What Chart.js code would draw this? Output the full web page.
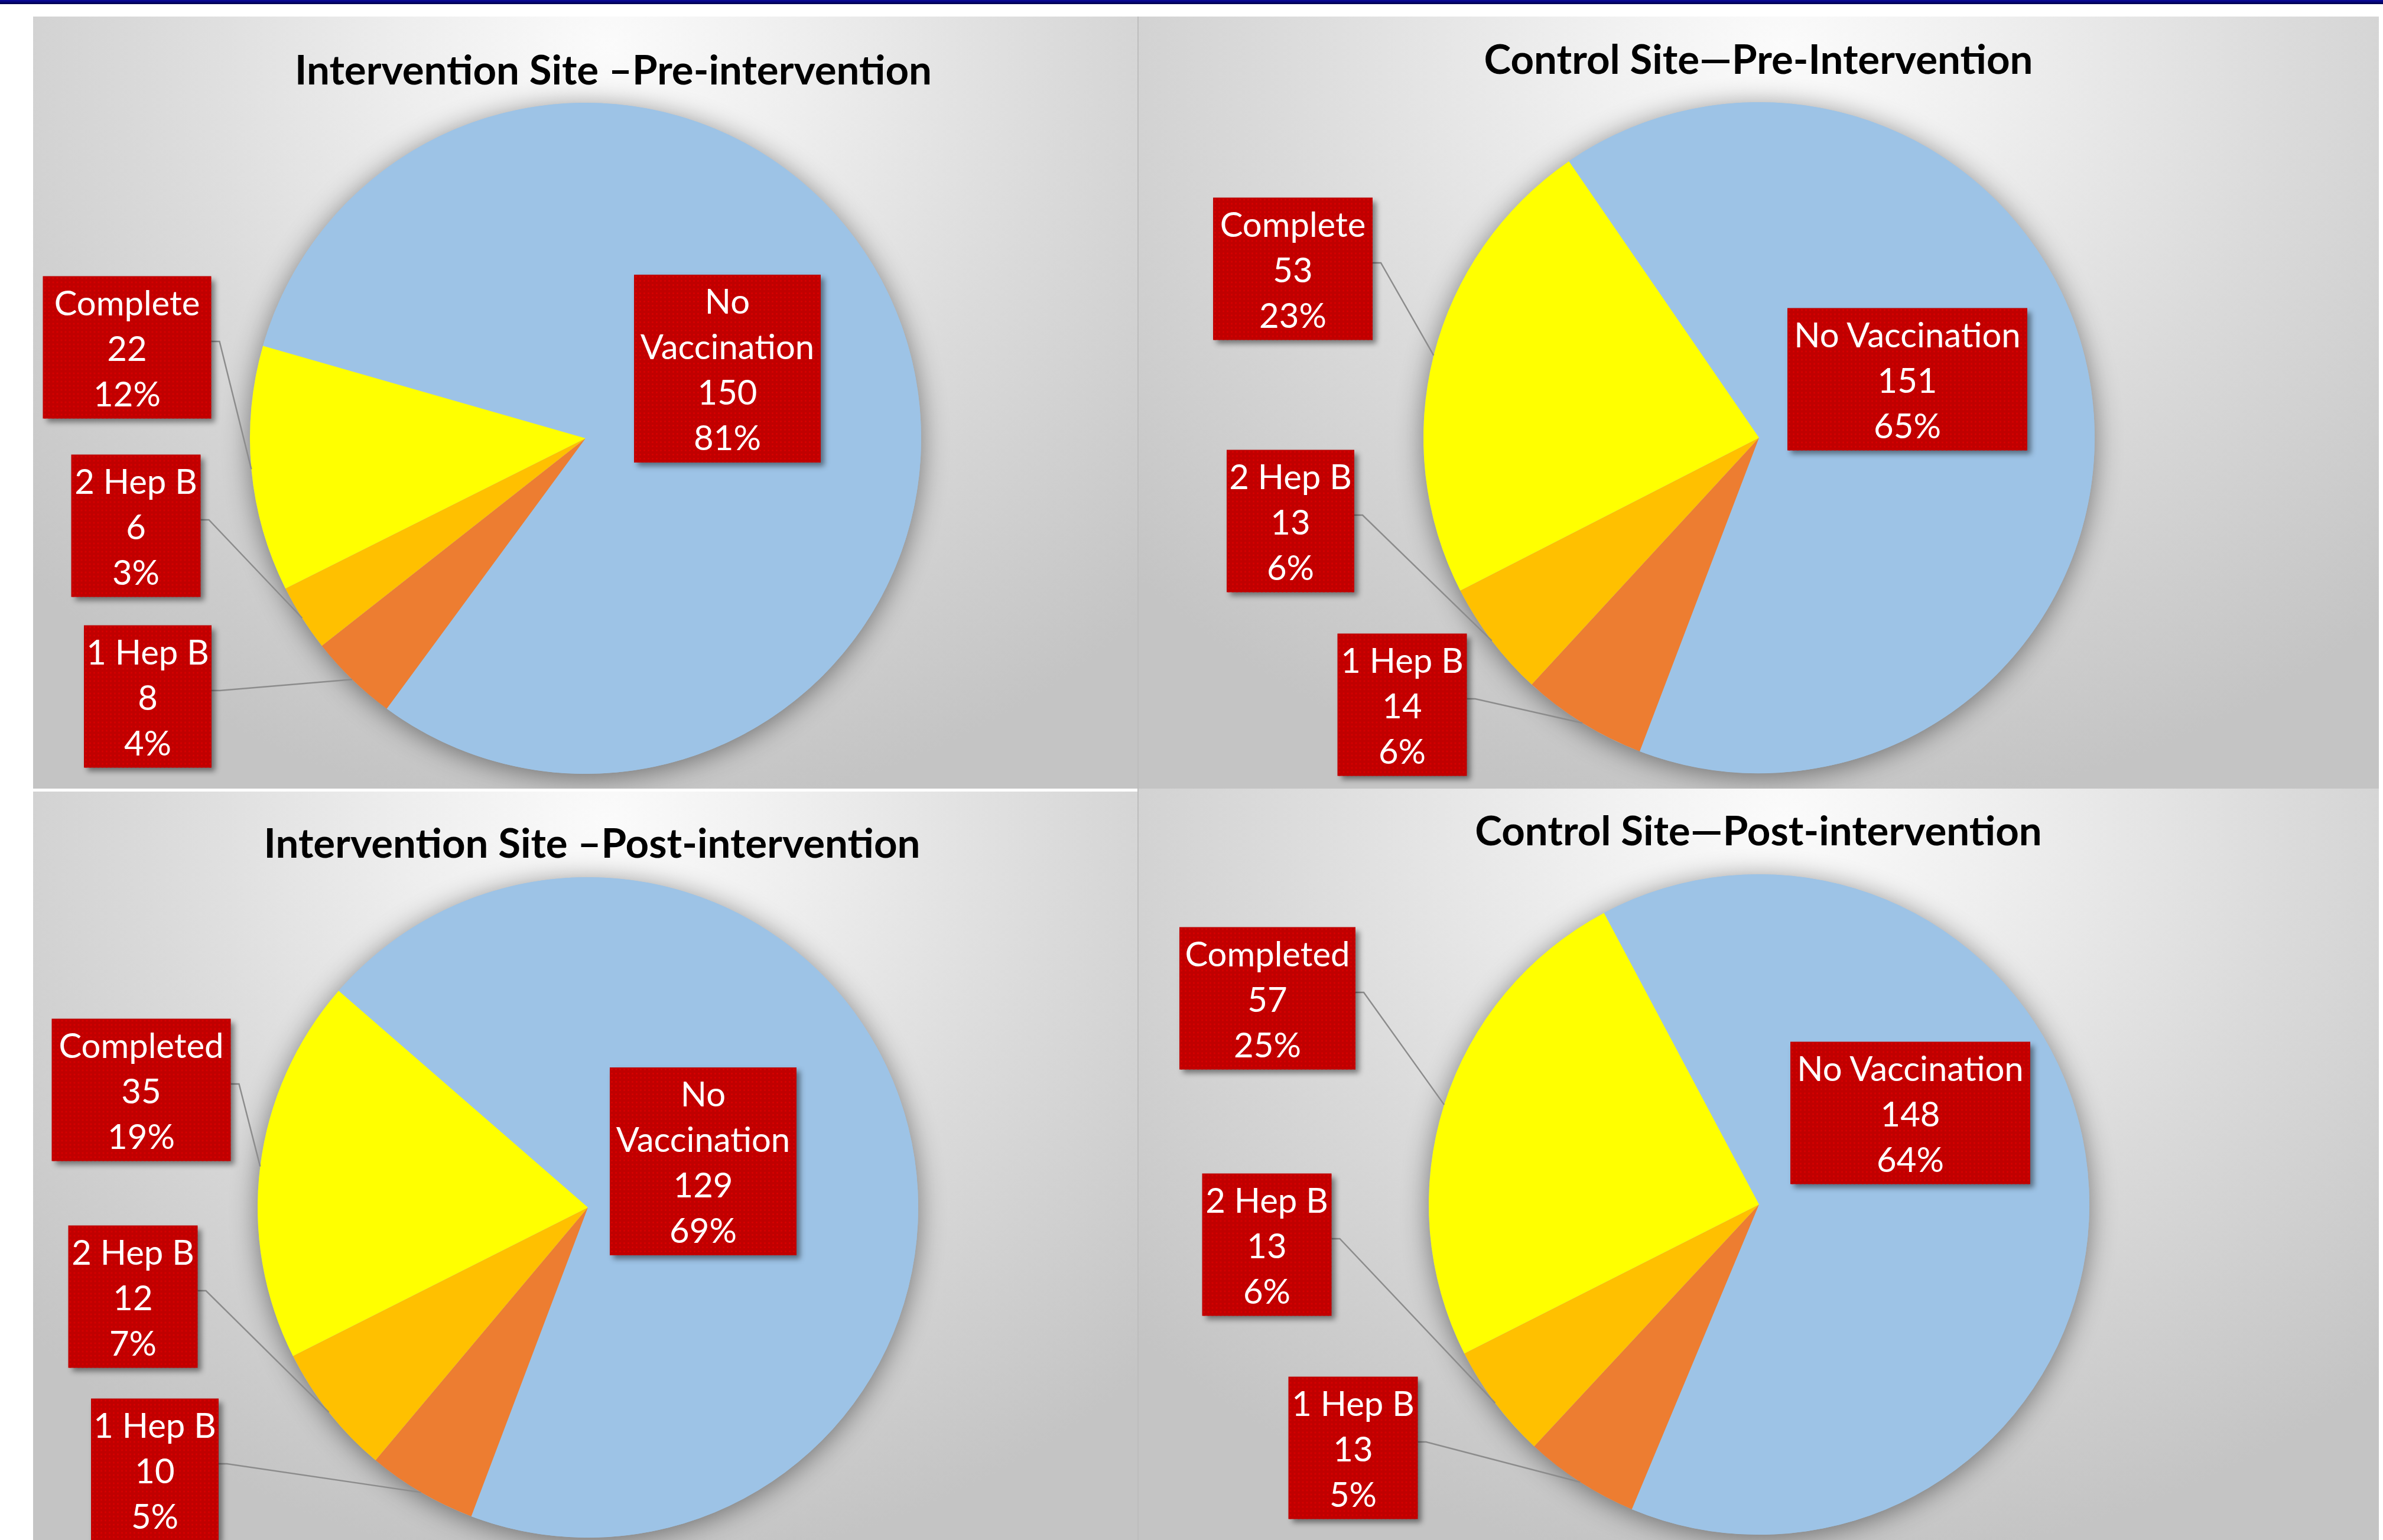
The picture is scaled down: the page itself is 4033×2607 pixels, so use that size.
<!DOCTYPE html>
<html>
<head>
<meta charset="utf-8">
<script src="https://cdn.jsdelivr.net/npm/chart.js@4.4.1/dist/chart.umd.min.js"></script>
<style>
  body { margin: 0; width: 4033px; height: 2607px; overflow: hidden; background: #fff; position: relative; font-family: Lato, "Open Sans", sans-serif; }
  #topbar { position: absolute; left: 0; top: 0; width: 4033px; height: 7px; background: linear-gradient(#0b0ba0, #000048); }
  #vline { position: absolute; left: 1925px; top: 28px; width: 2px; height: 2579px; background: #bdbdbd; }
  .panel { position: absolute; overflow: hidden;
    background: radial-gradient(ellipse 72% 100% at 52% 4%, #fbfbfb 0%, #eeeeee 25%, #dadada 58%, #c4c4c4 100%); }
  .panel canvas { position: absolute; left: 0; top: 0; }
  .title { position: absolute; transform: translate(-50%, -50%); white-space: nowrap; font-weight: 700; font-size: 69px; color: #000; }
  .lbl { position: absolute; transform: translate(-50%, -50%); color: #fff; text-align: center;
    font-size: 58px; line-height: 77px; padding: 5px 0; white-space: nowrap;
    background-color: #c00000;
    background-image: radial-gradient(circle, #d60000 1.2px, transparent 1.8px);
    background-size: 7px 7px;
    box-shadow: 6px 6px 9px rgba(0, 0, 0, 0.45); }
  .lbl.wrap { white-space: normal; }
</style>
</head>
<body>
<div id="topbar"></div>
<div id="vline"></div>
<script>
// chart data
var titles = ['Intervention Site \u2013Pre-intervention', 'Control Site\u2014Pre-Intervention',
              'Intervention Site \u2013Post-intervention', 'Control Site\u2014Post-intervention'];

var preLabels  = ['No Vaccination', '1 Hep B', '2 Hep B', 'Complete'];
var postLabels = ['No Vaccination', '1 Hep B', '2 Hep B', 'Completed'];

var intPreValues  = [150, 8, 6, 22];
var intPrePct     = ['81%', '4%', '3%', '12%'];
var ctlPreValues  = [151, 14, 13, 53];
var ctlPrePct     = ['65%', '6%', '6%', '23%'];
var intPostValues = [129, 10, 12, 35];
var intPostPct    = ['69%', '5%', '7%', '19%'];
var ctlPostValues = [148, 13, 13, 57];
var ctlPostPct    = ['64%', '5%', '6%', '25%'];

var sliceColors = ['#9DC3E6', '#ED7D31', '#FFC000', '#FFFF00'];

// page layout (pixels), boxes: [centerX, centerY, width, wrap]
var panels = [
  { x: 56, y: 28, w: 1869, h: 1307, cx: 991, cy: 742, r: 568, rot: 286, title: [1038, 116],
    labels: preLabels, values: intPreValues, pct: intPrePct,
    boxes: [[1231, 624, 316, true], [250, 1179, 216], [230, 890, 219], [215, 588, 285]] },
  { x: 1927, y: 28, w: 2099, h: 1307, cx: 2977, cy: 741, r: 568, rot: 325.5, title: [2976, 98],
    labels: preLabels, values: ctlPreValues, pct: ctlPrePct,
    boxes: [[3228, 642, 406], [2373, 1193, 219], [2184, 882, 216], [2188, 455, 270]] },
  { x: 56, y: 1340, w: 1869, h: 1267, cx: 995, cy: 2044, r: 559, rot: 311, title: [1002, 1425],
    labels: postLabels, values: intPostValues, pct: intPostPct,
    boxes: [[1190, 1966, 316, true], [262, 2488, 216], [225, 2195, 219], [239, 1845, 303]] },
  { x: 1927, y: 1335, w: 2099, h: 1272, cx: 2977, cy: 2039, r: 559, rot: 332, title: [2976, 1404],
    labels: postLabels, values: ctlPostValues, pct: ctlPostPct,
    boxes: [[3233, 1884, 406], [2290, 2451, 219], [2144, 2107, 219], [2145, 1690, 298]] }
];

function decorPlugin(boxes) {
  return {
    id: 'pieDecor',
    beforeDatasetsDraw: function (chart) {
      var a = chart.getDatasetMeta(0).data[0];
      var ctx = chart.ctx;
      ctx.save();
      ctx.shadowColor = 'rgba(0,0,0,0.45)';
      ctx.shadowBlur = 45;
      ctx.shadowOffsetY = 6;
      ctx.fillStyle = sliceColors[0];
      ctx.beginPath();
      ctx.arc(a.x, a.y, a.outerRadius, 0, Math.PI * 2);
      ctx.fill();
      ctx.restore();
    },
    afterDatasetsDraw: function (chart) {
      var ctx = chart.ctx;
      var meta = chart.getDatasetMeta(0);
      ctx.save();
      ctx.strokeStyle = '#8c8c8c';
      ctx.lineWidth = 2.5;
      meta.data.forEach(function (a, i) {
        var b = boxes[i];
        var dx = b.cx - a.x, dy = b.cy - a.y;
        if (Math.sqrt(dx * dx + dy * dy) < a.outerRadius) return;
        var mid = (a.startAngle + a.endAngle) / 2;
        var px = a.x + Math.cos(mid) * a.outerRadius;
        var py = a.y + Math.sin(mid) * a.outerRadius;
        var half = b.el.offsetWidth / 2;
        var sx = b.cx < a.x ? b.cx + half : b.cx - half;
        var sy = b.cy - 10;
        var kx = b.cx < a.x ? sx + 14 : sx - 14;
        ctx.beginPath();
        ctx.moveTo(sx, sy);
        ctx.lineTo(kx, sy);
        ctx.lineTo(px, py);
        ctx.stroke();
      });
      ctx.restore();
    }
  };
}

panels.forEach(function (p, k) {
  var div = document.createElement('div');
  div.className = 'panel';
  div.style.left = p.x + 'px';
  div.style.top = p.y + 'px';
  div.style.width = p.w + 'px';
  div.style.height = p.h + 'px';
  document.body.appendChild(div);

  var canvas = document.createElement('canvas');
  canvas.width = p.w;
  canvas.height = p.h;
  div.appendChild(canvas);

  var t = document.createElement('div');
  t.className = 'title';
  t.textContent = titles[k];
  t.style.left = (p.title[0] - p.x) + 'px';
  t.style.top = (p.title[1] - p.y) + 'px';
  div.appendChild(t);

  var boxes = p.boxes.map(function (b, i) {
    var el = document.createElement('div');
    el.className = 'lbl' + (b[3] ? ' wrap' : '');
    el.style.left = (b[0] - p.x) + 'px';
    el.style.top = (b[1] - p.y) + 'px';
    el.style.width = b[2] + 'px';
    [p.labels[i], String(p.values[i]), p.pct[i]].forEach(function (s) {
      var line = document.createElement('div');
      line.textContent = s;
      el.appendChild(line);
    });
    div.appendChild(el);
    return { el: el, cx: b[0] - p.x, cy: b[1] - p.y };
  });

  var lx = p.cx - p.x, ly = p.cy - p.y;
  new Chart(canvas, {
    type: 'pie',
    data: {
      labels: p.labels,
      datasets: [{
        data: p.values,
        backgroundColor: sliceColors,
        borderWidth: 0,
        hoverOffset: 0
      }]
    },
    options: {
      responsive: false,
      animation: false,
      rotation: p.rot,
      radius: p.r,
      layout: { padding: { left: lx - p.r, right: p.w - lx - p.r, top: ly - p.r, bottom: p.h - ly - p.r } },
      plugins: { legend: { display: false }, tooltip: { enabled: false } }
    },
    plugins: [decorPlugin(boxes)]
  });
});
</script>
</body>
</html>
